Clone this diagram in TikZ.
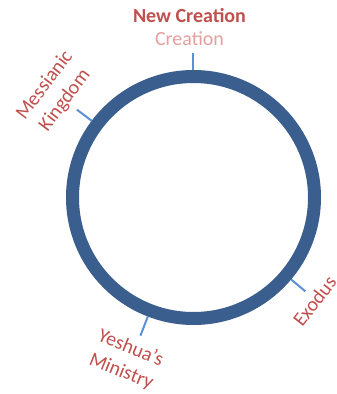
\documentclass[tikz,border=0pt]{standalone}
\usepackage{fontspec}
\setmainfont{Carlito}
\usepackage{xcolor}
\usetikzlibrary{positioning,calc}

\definecolor{ringblue}{HTML}{3A5F8E}
\definecolor{tickblue}{HTML}{5B8FD6}
\definecolor{lblred}{HTML}{C0504D}
\definecolor{lblpink}{HTML}{E3A09F}

\begin{document}
\begin{tikzpicture}[
					x=1pt, y=1pt,
					font=\fontsize{20}{25}\selectfont,
					ring/.style={
						circle, draw=ringblue, line width=13pt,
						minimum size=242pt, inner sep=0pt
					},
					tick/.style={tickblue, line width=2pt},
					era/.style={
						text=lblred, align=center, inner sep=0pt
					}
					]
					\useasboundingbox (-193.5,-196.5) rectangle (143.5,197.5);
					%% ─── THE CYCLE ──────────────────────────────────
					\node[ring] (ring) at (0,0) {};
					
					\coordinate (tnew) at (90:144);
					\coordinate (tmk)  at (143:146);
					\coordinate (texo) at (-40:146);
					\coordinate (tym)  at (-111:148);
					
					\draw[tick] (ring.90)--(tnew); \draw[tick] (ring.143)--(tmk);
					\draw[tick] (ring.-40)--(texo); \draw[tick] (ring.-111)--(tym);
					
					%% ─── LABELS ─────────────────────────────────────
					\node[era, anchor=base] (newcre) at (-4,174.8) {\textbf{New Creation}};
					\node[era, anchor=base, text=lblpink] (cre) at (-4,151.5) {Creation};
					\node[era, rotate=53] (mk) at (-138.5,104.5) {Messianic\\Kingdom};
					\node[era, rotate=52] (exo) at (121,-103.5) {Exodus};
					\node[era, rotate=-22] (ym) at (-67.5,-162.5) {Yeshua’s\\Ministry};
				\end{tikzpicture}
\end{document}
